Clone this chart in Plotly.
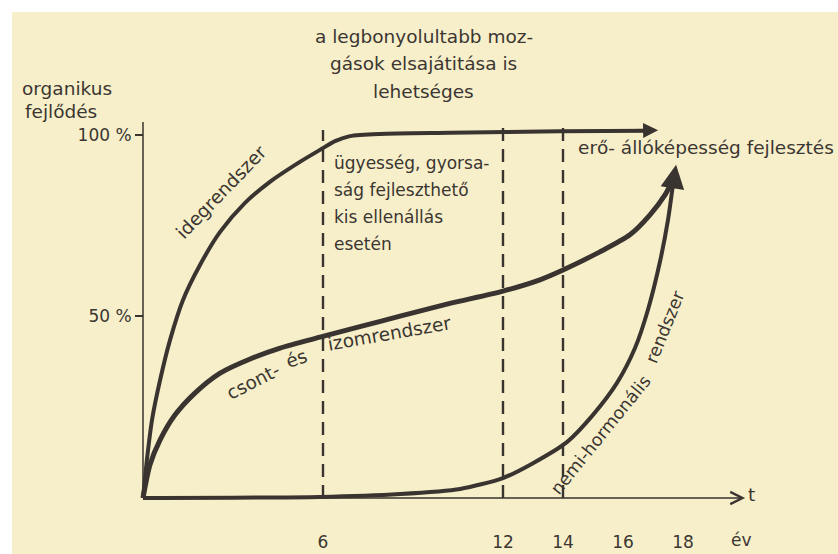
import plotly.graph_objects as go

# ---- data (age in years, organic development in %) ----
ideg_t = [0, 0.13, 0.3, 0.57, 0.9, 1.33, 1.9, 2.57, 3.4, 4.23, 5.23, 5.9, 6.4, 6.9, 7.9, 10.23, 13.9, 16.9]
ideg_v = [0, 10.5, 21.5, 32.5, 43.5, 54.5, 64.2, 73.3, 81.3, 87.1, 92.6, 95.9, 98.3, 99.7, 100.3, 100.6, 101.0, 101.2]

csont_t = [0, 0.23, 0.57, 1.07, 1.73, 2.57, 3.57, 4.57, 5.9, 7.23, 8.57, 10.23, 12.0, 13.23, 14.0, 15.23, 16.23, 16.9, 17.4, 17.63]
csont_v = [0, 9.1, 16.0, 22.9, 28.9, 34.4, 38.3, 41.3, 44.3, 47.2, 50.1, 53.6, 57.0, 60.1, 62.8, 67.8, 72.5, 78.0, 83.5, 87.1]

nemi_t = [0, 5.9, 8.57, 10.57, 12.0, 13.0, 14.13, 15.0, 15.8, 16.4, 16.83, 17.23, 17.5, 17.66]
nemi_v = [0, 0.3, 1.1, 2.5, 5.5, 9.6, 15.4, 22.9, 31.7, 41.3, 51.8, 65.0, 76.6, 86.0]

milestone_years = [6, 12, 14]
milestone_tops = [101.4, 102.8, 102.6]

x_tick_vals = [6, 12, 14, 16, 18]
x_tick_text = ["6", "12", "14", "16", "18"]
y_tick_vals = [50, 100]
y_tick_text = ["50 %", "100 %"]

title_lines = ["a legbonyolultabb moz-", "gások elsajátitása is", "lehetséges"]
y_title_lines = ["organikus", "fejlődés"]
middle_note = ["ügyesség, gyorsa-", "ság fejleszthető", "kis ellenállás", "esetén"]
right_note = "erő- állóképesség fejlesztés"

# ---- styling ----
INK = "#3a3430"
TEXT = "#3b3631"
PAPER = "#f7efca"
FONT = "DejaVu Sans"
FS = 18.5
W, H = 838, 554
X_RANGE = [-4.7667, 23.1667]
Y_RANGE = [-15.43, 137.19]

fig = go.Figure()

# beige sheet
fig.add_shape(type="rect", xref="paper", yref="paper", x0=12 / W, x1=1, y0=0, y1=(H - 12) / H,
              fillcolor=PAPER, line_width=0, layer="below")

# dashed milestone verticals
for yr, top in zip(milestone_years, milestone_tops):
    fig.add_trace(go.Scatter(x=[yr, yr], y=[0, top], mode="lines",
                             line=dict(color=INK, width=2.4, dash="13px,8px"),
                             hoverinfo="skip", showlegend=False))

# axis lines
fig.add_shape(type="line", x0=0, x1=0, y0=0, y1=103.6, line=dict(color=INK, width=1.5))
fig.add_annotation(x=20.07, y=0, ax=0, ay=0, axref="x", ayref="y", text="",
                   showarrow=True, arrowhead=5, arrowsize=1.6, arrowwidth=1.5, arrowcolor=INK)

# curves
curve_line = dict(color=INK, shape="spline", smoothing=0.7)
fig.add_trace(go.Scatter(x=ideg_t, y=ideg_v, mode="lines", line=dict(curve_line, width=4),
                         showlegend=False, name="idegrendszer"))
fig.add_trace(go.Scatter(x=csont_t, y=csont_v, mode="lines", line=dict(curve_line, width=5),
                         showlegend=False, name="csont- és izomrendszer"))
fig.add_trace(go.Scatter(x=nemi_t, y=nemi_v, mode="lines", line=dict(curve_line, width=4),
                         showlegend=False, name="nemi-hormonális rendszer"))

# arrow heads
fig.add_annotation(x=17.17, y=101.3, ax=16.3, ay=101.2, axref="x", ayref="y", text="",
                   showarrow=True, arrowhead=2, arrowsize=1.0, arrowwidth=3, arrowcolor=INK)
fig.add_annotation(x=17.77, y=91.8, ax=17.64, ay=85.0, axref="x", ayref="y", text="",
                   showarrow=True, arrowhead=2, arrowsize=0.95, arrowwidth=5, arrowcolor=INK)

def label(text, x, y, angle=0, size=FS, xanchor="center", xref="x", yref="y"):
    fig.add_annotation(text=text, x=x, y=y, xref=xref, yref=yref, showarrow=False,
                       textangle=angle, xanchor=xanchor, yanchor="middle",
                       font=dict(family=FONT, size=size, color=TEXT))

def pxx(p):
    return p / W

def pxy(p):
    return (H - p) / H

# headings and notes
for i, line in enumerate(title_lines):
    label(line, pxx(424), pxy(37 + 27 * i), xref="paper", yref="paper")
for i, line in enumerate(y_title_lines):
    label(line, pxx(20 + 3 * i), pxy(88 + 24 * i), xanchor="left", xref="paper", yref="paper")
for i, line in enumerate(middle_note):
    label(line, pxx(332), pxy(163 + 27 * i), size=17, xanchor="left", xref="paper", yref="paper")
label(right_note, pxx(576), pxy(147), xanchor="left", xref="paper", yref="paper")
label("t", pxx(751), pxy(494), xref="paper", yref="paper")
label("év", pxx(741), pxy(540), size=17, xref="paper", yref="paper")

# curve names written along the curves
label("idegrendszer", 2.63, 84.3, angle=-46)
label("csont-", 3.67, 32.0, angle=-27)
label("és", 5.13, 38.3, angle=-20)
label("izomrendszer", 8.2, 45.3, angle=-10)
label("nemi-hormonális", 15.25, 17.4, angle=-51, size=17.5)
label("rendszer", 17.4, 47.1, angle=-68, size=17.5)

fig.update_layout(
    width=W, height=H, margin=dict(l=0, r=0, t=0, b=0),
    paper_bgcolor="white", plot_bgcolor="rgba(0,0,0,0)",
    showlegend=False,
    xaxis=dict(range=X_RANGE, anchor="free", position=(H - 530) / H, showline=False,
               showgrid=False, zeroline=False, ticks="", tickvals=x_tick_vals, ticktext=x_tick_text,
               tickfont=dict(family=FONT, size=17, color=TEXT), fixedrange=True),
    yaxis=dict(range=Y_RANGE, anchor="free", position=143 / W, showline=False,
               showgrid=False, zeroline=False, ticks="outside", ticklen=8, tickwidth=1.5,
               tickcolor=INK, tickvals=y_tick_vals, ticktext=y_tick_text,
               tickfont=dict(family=FONT, size=17, color=TEXT), fixedrange=True),
)

fig.write_html("out.html")
